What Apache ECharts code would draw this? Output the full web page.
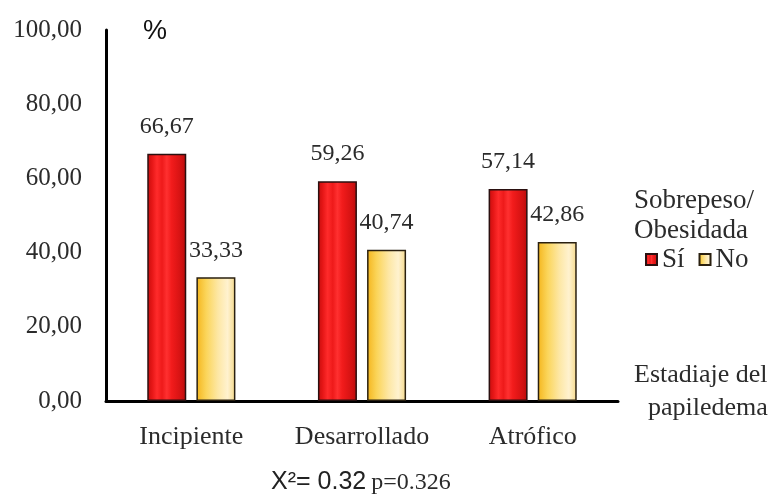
<!DOCTYPE html>
<html>
<head>
<meta charset="utf-8">
<script src="https://cdn.jsdelivr.net/npm/echarts@6/dist/echarts.min.js"></script>
<style>
html,body{margin:0;padding:0;background:#fff;}
#main{width:777px;height:498px;}
</style>
</head>
<body>
<div id="main"></div>
<script>
var categories = ['Incipiente', 'Desarrollado', 'Atrófico'];
var seriesNames = ['Sí', 'No'];
var valuesSi = [66.67, 59.26, 57.14];
var valuesNo = [33.33, 40.74, 42.86];
var yTicks = [0, 20, 40, 60, 80, 100];

var serif = 'Liberation Serif';
var txt = '#2b2b2b';

function fmt(v) { return Number(v).toFixed(2).replace('.', ','); }

var redGrad = new echarts.graphic.LinearGradient(0, 0, 1, 0, [
  {offset: 0, color: '#c40e0e'},
  {offset: 0.12, color: '#e51616'},
  {offset: 0.25, color: '#ff2b2b'},
  {offset: 0.38, color: '#ee1a1a'},
  {offset: 0.5, color: '#ff3030'},
  {offset: 0.62, color: '#f21c1c'},
  {offset: 0.75, color: '#e21616'},
  {offset: 0.88, color: '#d11212'},
  {offset: 1, color: '#b50c0c'}
]);
var yelGrad = new echarts.graphic.LinearGradient(0, 0, 1, 0, [
  {offset: 0, color: '#f4b51c'},
  {offset: 0.25, color: '#fbd55a'},
  {offset: 0.55, color: '#fde7a4'},
  {offset: 0.8, color: '#fff2cf'},
  {offset: 1, color: '#f5d98a'}
]);

var chart = echarts.init(document.getElementById('main'), null, {renderer: 'canvas'});
var option = {
  backgroundColor: '#ffffff',
  animation: false,
  grid: {left: 106, right: 159, top: 30, bottom: 97, containLabel: false},
  legend: {
    data: seriesNames,
    left: 645, top: 246,
    padding: 0,
    itemWidth: 11, itemHeight: 11, itemGap: 14,
    icon: 'rect',
    textStyle: {fontFamily: serif, fontSize: 27, color: txt}
  },
  title: {
    text: '{a|X²= 0.32} {b|p=0.326}',
    left: 271, top: 470,
    padding: 0,
    textStyle: {
      fontWeight: 'normal',
      rich: {
        a: {fontFamily: 'Liberation Sans', fontSize: 25, fontWeight: 'normal', color: '#222'},
        b: {fontFamily: serif, fontSize: 24, fontWeight: 'normal', color: txt}
      }
    }
  },
  xAxis: {
    type: 'category',
    data: categories,
    axisLine: {lineStyle: {color: '#000', width: 3}},
    axisTick: {show: false},
    axisLabel: {interval: 0, fontFamily: serif, fontSize: 26, color: txt, margin: 23}
  },
  yAxis: {
    type: 'value',
    min: yTicks[0], max: yTicks[yTicks.length - 1], interval: 20,
    axisLine: {show: true, lineStyle: {color: '#000', width: 3}},
    axisTick: {show: false},
    splitLine: {show: false},
    axisLabel: {fontFamily: serif, fontSize: 25, color: txt, margin: 24, formatter: fmt}
  },
  series: [
    {
      name: seriesNames[0], type: 'bar', data: valuesSi,
      barWidth: 39, barGap: '26%',
      itemStyle: {color: redGrad, borderColor: '#2a1010', borderWidth: 1.5},
      label: {show: true, position: 'top', distance: 15, fontFamily: serif, fontSize: 24, color: txt, formatter: function(p){return fmt(p.value);}}
    },
    {
      name: seriesNames[1], type: 'bar', data: valuesNo,
      barWidth: 39, barGap: '26%',
      itemStyle: {color: yelGrad, borderColor: '#2a2010', borderWidth: 1.5},
      label: {show: true, position: 'top', distance: 15, fontFamily: serif, fontSize: 24, color: txt, formatter: function(p){return fmt(p.value);}}
    }
  ],
  graphic: [
    {type: 'text', left: 143, top: 18, style: {text: '%', fontFamily: 'Liberation Sans', fontSize: 27, fill: '#111'}},
    {type: 'text', left: 634, top: 187, style: {text: 'Sobrepeso/', fontFamily: serif, fontSize: 27, fill: txt}},
    {type: 'text', left: 634, top: 217, style: {text: 'Obesidada', fontFamily: serif, fontSize: 27, fill: txt}},
    {type: 'text', left: 634, top: 362, style: {text: 'Estadiaje del', fontFamily: serif, fontSize: 26, fill: txt}},
    {type: 'text', left: 648, top: 395, style: {text: 'papiledema', fontFamily: serif, fontSize: 26, fill: txt}}
  ]
};
chart.setOption(option);
</script>
</body>
</html>
